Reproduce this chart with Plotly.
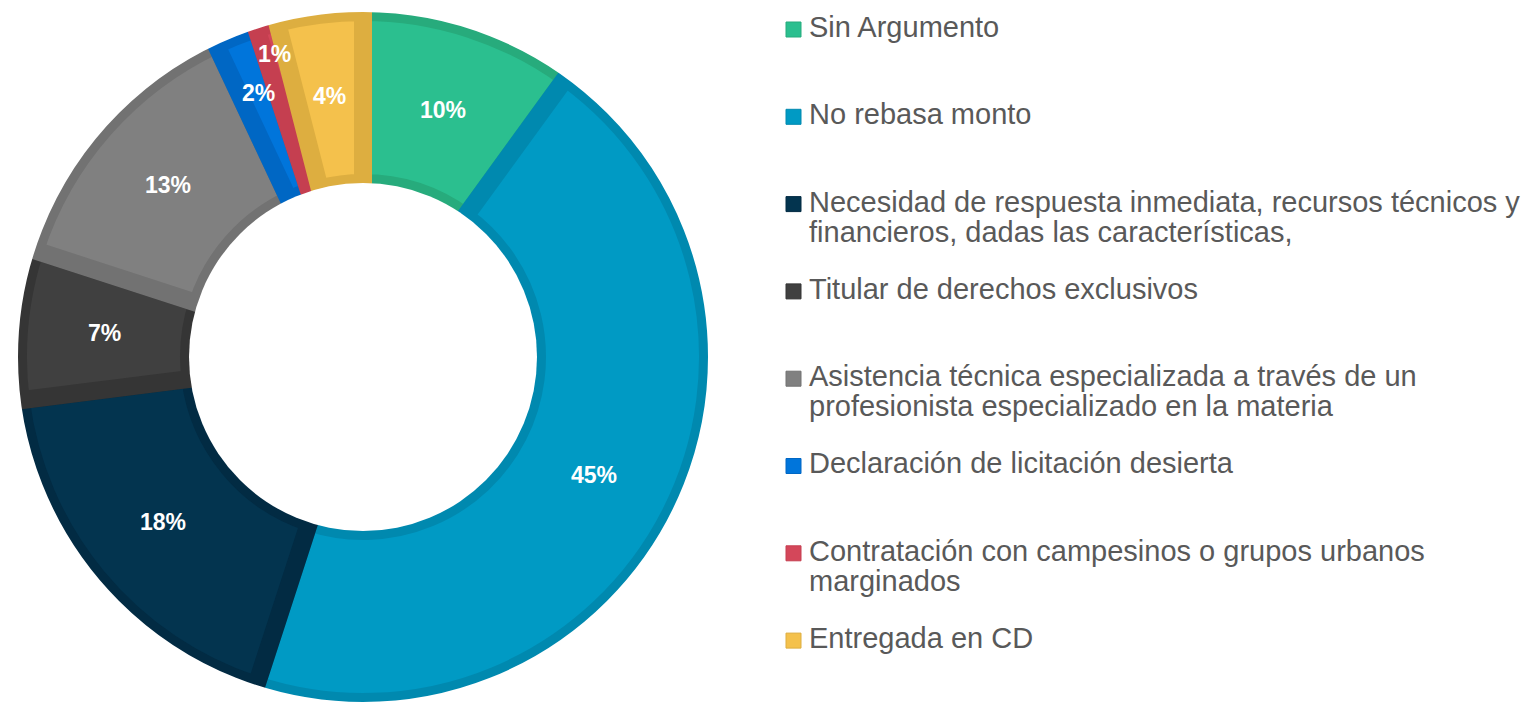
import math
import plotly.graph_objects as go

# ---------------- data ----------------
categories = [
    "Sin Argumento",
    "No rebasa monto",
    "Necesidad de respuesta inmediata, recursos técnicos y<br>financieros, dadas las características,",
    "Titular de derechos exclusivos",
    "Asistencia técnica especializada a través de un<br>profesionista especializado en la materia",
    "Declaración de licitación desierta",
    "Contratación con campesinos o grupos urbanos<br>marginados",
    "Entregada en CD",
]
values = [10, 45, 18, 7, 13, 2, 1, 4]

fill_colors = ["#2BBF8F", "#009AC4", "#03344F", "#404040",
               "#808080", "#0075DB", "#D4475A", "#F4C14C"]
border_colors = ["#27AB7C", "#0089AF", "#022B43", "#353535",
                 "#727272", "#0067C4", "#C53F50", "#DDAE40"]

# radial nudge (px) of the percentage labels for the thin slices, as in the original
label_nudge = [0, 0, 0, 0, 0, 24, 56, 4]

# ---------------- layout constants (pixels) ----------------
W, H = 1529, 702
CX, CY = 363, 357          # donut centre
R_OUT, R_IN = 345, 174     # visible outer / inner radius
LW = 18                    # slice outline width (half shows inside each slice)
FONT = "Liberation Sans, Arial, sans-serif"

dom_x = [(CX - R_OUT) / W, (CX + R_OUT) / W]
dom_y = [max(0, (H - (CY + R_OUT)) / H), (H - (CY - R_OUT)) / H]
labels_plain = [c.replace("<br>", " ") for c in categories]

fig = go.Figure()
fig.add_trace(go.Pie(
    labels=labels_plain,
    values=values,
    sort=False,
    direction="clockwise",
    rotation=0,
    hole=R_IN / R_OUT,
    domain=dict(x=dom_x, y=dom_y),
    marker=dict(colors=fill_colors, line=dict(color=border_colors, width=LW)),
    textinfo="none",
    showlegend=False,
    hoverinfo="label+percent",
))

shapes = []
# trim the half of the outline that spills outside the ring
ro = R_OUT + 8
shapes.append(dict(type="circle", xref="paper", yref="paper", layer="above",
                   x0=(CX - ro) / W, x1=(CX + ro) / W,
                   y0=(H - (CY + ro)) / H, y1=(H - (CY - ro)) / H,
                   fillcolor="rgba(0,0,0,0)", line=dict(color="white", width=16)))
shapes.append(dict(type="circle", xref="paper", yref="paper", layer="above",
                   x0=(CX - R_IN) / W, x1=(CX + R_IN) / W,
                   y0=(H - (CY + R_IN)) / H, y1=(H - (CY - R_IN)) / H,
                   fillcolor="white", line=dict(width=0)))

annotations = []
# percentage labels at the middle of the ring, at each slice's mid-angle
total = sum(values)
cum = 0
r_mid = (R_IN + R_OUT) / 2
for v, nudge in zip(values, label_nudge):
    frac_mid = (cum + v / 2) / total
    cum += v
    ang = 2 * math.pi * frac_mid
    r = r_mid + nudge
    px = CX + r * math.sin(ang)
    py = CY - r * math.cos(ang)
    annotations.append(dict(
        xref="paper", yref="paper", x=px / W, y=(H - py) / H,
        xanchor="center", yanchor="middle", showarrow=False,
        text=f"{round(100 * v / total)}%",
        font=dict(family=FONT, size=23, color="white", weight="bold"),
    ))

# ---------------- custom legend ----------------
LEG_SQ_X0, LEG_SQ_X1 = 786, 801
LEG_TEXT_X = 807
LEG_BASE0 = 37
LEG_STEP = 87.3
LEG_LINE = 30
LEG_FS = 29
SQ = 15

for i, (lab, fc, bc) in enumerate(zip(categories, fill_colors, border_colors)):
    base = LEG_BASE0 + LEG_STEP * i
    shapes.append(dict(
        type="rect", xref="paper", yref="paper",
        x0=LEG_SQ_X0 / W, x1=LEG_SQ_X1 / W,
        y0=(H - base) / H, y1=(H - (base - SQ)) / H,
        fillcolor=fc, line=dict(color=bc, width=1),
    ))
    for j, line in enumerate(lab.split("<br>")):
        b = base + LEG_LINE * j
        mid = b - 0.3465 * LEG_FS
        annotations.append(dict(
            xref="paper", yref="paper",
            x=LEG_TEXT_X / W, y=(H - mid) / H,
            xanchor="left", yanchor="middle",
            text=line, showarrow=False,
            font=dict(family=FONT, size=LEG_FS, color="#595959"),
        ))

fig.update_layout(
    width=W, height=H,
    margin=dict(l=0, r=0, t=0, b=0),
    paper_bgcolor="white",
    plot_bgcolor="white",
    shapes=shapes,
    annotations=annotations,
    showlegend=False,
)

fig.write_html("out.html", config={"displayModeBar": False},
               post_script="document.body.style.margin='0px';")
